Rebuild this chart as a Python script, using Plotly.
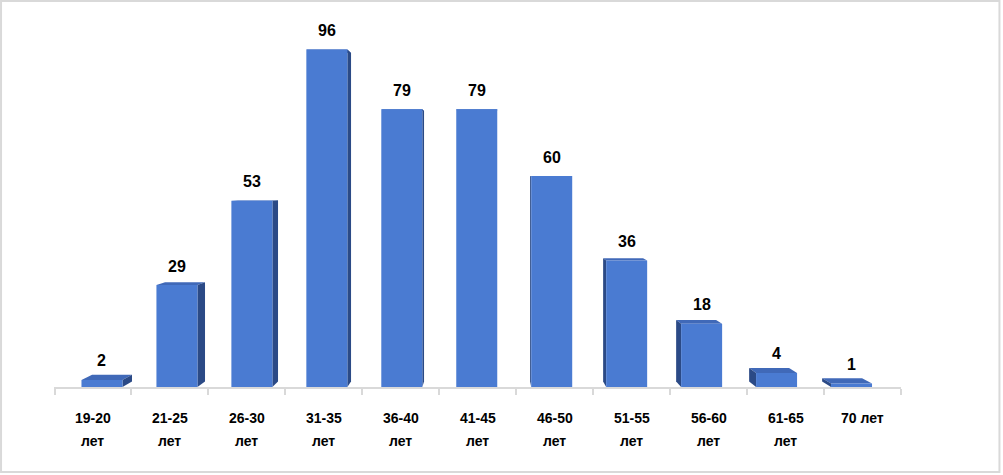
import plotly.graph_objects as go

categories_line1 = ["19-20", "21-25", "26-30", "31-35", "36-40", "41-45", "46-50", "51-55", "56-60", "61-65", "70 лет"]
categories_line2 = ["лет", "лет", "лет", "лет", "лет", "лет", "лет", "лет", "лет", "лет", ""]
values = [2, 29, 53, 96, 79, 79, 60, 36, 18, 4, 1]

FRONT = "#4a7bd2"
SIDE = "#2b4a86"
TOP = "#4069b8"
FONT = "Liberation Sans, Arial, sans-serif"

n = len(values)
xs = list(range(n))
bar_w = 0.547
# perspective vanishing point (data units) and depth factor
vpx, vpy, k = 5.17, 59.2, 0.026

def back(x, y):
    return x + k * (vpx - x), y + k * (vpy - y)

shapes = []
for i, v in enumerate(values):
    xl, xr = i - bar_w / 2, i + bar_w / 2
    bxl, bv = back(xl, v)
    bxr, _ = back(xr, v)
    _, b0 = back(xl, 0)
    # top face
    shapes.append(dict(type="path", xref="x", yref="y", layer="below",
                       path=f"M{xl},{v} L{xr},{v} L{bxr},{bv} L{bxl},{bv} Z",
                       fillcolor=TOP, line=dict(width=0)))
    # side face
    if vpx > xr:
        sx, bsx = xr, bxr
    elif vpx < xl:
        sx, bsx = xl, bxl
    else:
        sx = None
    if sx is not None:
        shapes.append(dict(type="path", xref="x", yref="y", layer="below",
                           path=f"M{sx},0 L{sx},{v} L{bsx},{bv} L{bsx},{b0} Z",
                           fillcolor=SIDE, line=dict(width=0)))

# category label positions and boundaries (perspective on the floor edge)
step = 1.0267
label_pos = [-0.12 + step * i for i in range(n)]
boundaries = [p - step / 2 for p in label_pos] + [label_pos[-1] + step / 2]

fig = go.Figure()
fig.add_trace(go.Bar(x=xs, y=values, width=bar_w, marker=dict(color=FRONT, line=dict(width=0)),
                     hoverinfo="skip"))

annotations = []
for i, v in enumerate(values):
    annotations.append(dict(x=i, y=v, xref="x", yref="y", text=f"<b>{v}</b>", showarrow=False,
                            yanchor="middle", yshift=19, font=dict(family=FONT, size=16, color="#000000")))
for p, t1, t2 in zip(label_pos, categories_line1, categories_line2):
    annotations.append(dict(x=p, y=0, xref="x", yref="y", text=f"<b>{t1}</b>", showarrow=False,
                            yanchor="middle", yshift=-31, font=dict(family=FONT, size=14, color="#000000")))
    if t2:
        annotations.append(dict(x=p, y=0, xref="x", yref="y", text=f"<b>{t2}</b>", showarrow=False,
                                yanchor="middle", yshift=-54, font=dict(family=FONT, size=14, color="#000000")))

W, H = 1003, 475
ml, mt, mb = 54, 20, 88
pw = 847.5
ph = H - mt - mb
shapes.append(dict(type="rect", xref="paper", yref="paper",
                   x0=(1 - ml) / pw, x1=(1000 - ml) / pw,
                   y0=(H - mb - 472) / ph, y1=(H - mb - 1) / ph,
                   line=dict(color="#d9d9d9", width=2), fillcolor="rgba(0,0,0,0)"))

fig.update_layout(
    width=W, height=H,
    margin=dict(l=ml, r=W - ml - pw, t=mt, b=mb, pad=0),
    paper_bgcolor="white", plot_bgcolor="rgba(0,0,0,0)",
    showlegend=False,
    xaxis=dict(range=[-0.64, 10.66], showgrid=False, zeroline=False, showline=True,
               linecolor="#d9d9d9", linewidth=2, tickmode="array", tickvals=boundaries,
               ticks="outside", ticklen=6, tickwidth=2, tickcolor="#d9d9d9", showticklabels=False),
    yaxis=dict(range=[0, ph / 3.515], visible=False),
    shapes=shapes, annotations=annotations,
)
fig.write_html("out.html", config={"displayModeBar": False, "staticPlot": True},
               post_script="document.body.style.margin='0';document.body.style.overflow='hidden';")
